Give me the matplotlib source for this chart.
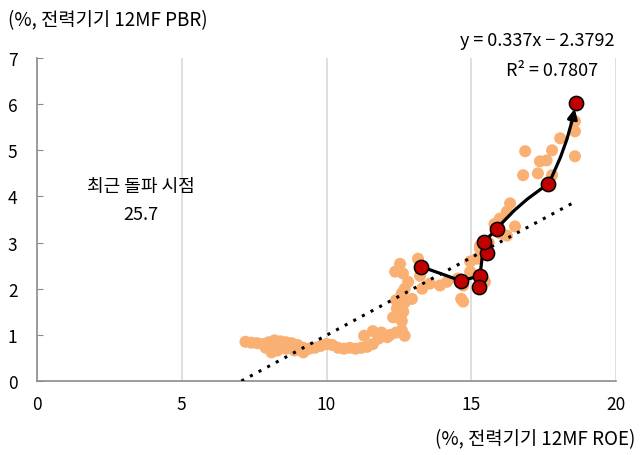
import matplotlib
matplotlib.use("Agg")
import matplotlib.pyplot as plt

plt.rcParams["font.family"] = ["Noto Sans CJK KR", "DejaVu Sans"]

# orange scatter: 12MF ROE vs 12MF PBR
roe = [
    7.2, 7.4, 7.6, 7.8, 8.0, 8.2, 8.3, 8.4, 8.6, 8.8, 9.0, 9.2, 9.4, 9.6, 9.8,
    10.0, 10.2, 10.4, 10.6, 10.8, 11.0, 11.2, 11.4, 11.6, 11.8, 12.0, 12.2, 12.4,
    12.6, 12.7, 12.6, 12.65, 12.7, 12.6, 8.1, 8.3, 8.6, 8.9, 9.2, 7.9, 11.9, 12.1,
    11.3, 11.6, 12.3, 12.4, 12.7,
    12.54, 12.37, 12.64, 12.82, 12.64, 12.43, 12.95, 13.16, 13.23, 13.30, 13.57,
    13.92, 14.16, 14.54, 14.72, 14.72, 14.96, 15.2, 15.3, 15.47, 14.65,
    16.86, 16.79, 17.37, 17.6, 17.3, 17.79, 18.07, 18.58, 18.58, 17.79, 16.34,
    16.23, 15.99, 16.51, 16.23, 15.3, 14.96, 18.58, 15.6, 15.8, 16.0,
]
pbr = [
    0.85, 0.83, 0.82, 0.80, 0.84, 0.88, 0.78, 0.86, 0.84, 0.82, 0.78, 0.72, 0.70,
    0.72, 0.76, 0.80, 0.78, 0.72, 0.70, 0.72, 0.70, 0.72, 0.74, 0.80, 0.92, 0.98,
    1.00, 1.05, 1.10, 0.98, 1.30, 1.50, 1.70, 1.90, 0.62, 0.66, 0.70, 0.66, 0.62,
    0.72, 1.05, 0.95, 0.98, 1.08, 1.38, 1.75, 2.00,
    2.54, 2.37, 2.33, 2.15, 1.72, 1.57, 1.78, 2.65, 2.28, 2.00, 2.11, 2.07, 2.15,
    2.22, 2.07, 1.72, 2.37, 2.65, 2.87, 2.15, 1.78,
    4.98, 4.46, 4.76, 4.78, 4.50, 5.00, 5.26, 5.41, 4.87, 4.46, 3.85, 3.67, 3.52,
    3.35, 3.15, 2.93, 2.59, 5.63, 3.0, 3.4, 3.2,
]

# red path points (recent breakout)
path_roe = [13.26, 14.65, 15.30, 15.27, 15.54, 15.44, 15.89, 17.65, 18.62]
path_pbr = [2.48, 2.17, 2.28, 2.04, 2.78, 3.02, 3.30, 4.26, 6.02]
line_roe = [13.26, 14.65, 15.30, 15.44, 15.89]
line_pbr = [2.48, 2.17, 2.28, 3.02, 3.30]

slope, intercept = 0.337, -2.3792
trend_x = [-intercept / slope, 18.5]
trend_y = [slope * x + intercept for x in trend_x]

fig = plt.figure(figsize=(6.42, 4.56), dpi=100)
ax = fig.add_axes([0.0576, 0.1623, 0.902, 0.7083])

ax.scatter(roe, pbr, s=75, color="#F9B072", edgecolors="none", zorder=2)
ax.plot(trend_x, trend_y, linestyle=(0, (1, 2.2)), color="black", lw=2.2, zorder=3)

ax.plot(line_roe, line_pbr, color="black", lw=2.3, zorder=4)
ax.annotate("", xy=(path_roe[7], path_pbr[7]), xytext=(path_roe[6], path_pbr[6]),
            arrowprops=dict(arrowstyle="-", color="black", lw=2.3,
                            connectionstyle="arc3,rad=-0.08", shrinkA=0, shrinkB=0),
            zorder=4)
ax.annotate("", xy=(path_roe[8] - 0.05, path_pbr[8] - 0.12),
            xytext=(path_roe[7], path_pbr[7]),
            arrowprops=dict(arrowstyle="-|>", color="black", lw=2.3, mutation_scale=14,
                            connectionstyle="arc3,rad=0.07", shrinkA=0, shrinkB=0),
            zorder=4)
ax.scatter(path_roe, path_pbr, s=105, color="#C00000", edgecolors="black",
           linewidths=1.1, zorder=5)

ax.set_xlim(0, 20)
ax.set_ylim(0, 7)
ax.set_xticks([0, 5, 10, 15, 20])
ax.set_yticks(range(8))
ax.grid(axis="x", color="#D9D9D9", lw=1.2)
ax.set_axisbelow(True)
for side in ["top", "right"]:
    ax.spines[side].set_visible(False)
for side in ["left", "bottom"]:
    ax.spines[side].set_color("#8C8C8C")
    ax.spines[side].set_linewidth(1.2)
ax.tick_params(axis="y", direction="in", length=4, color="#8C8C8C", labelsize=12.5, pad=14)
ax.tick_params(axis="x", length=0, labelsize=12.5, pad=10)

fig.text(0.012, 0.955, "(%, 전력기기 12MF PBR)", fontsize=13.5, va="center", ha="left")
fig.text(0.99, 0.035, "(%, 전력기기 12MF ROE)", fontsize=13.5, va="center", ha="right")
ax.text(17.27, 7.39, "y = 0.337x − 2.3792", fontsize=13, ha="center", va="center")
ax.text(17.8, 6.74, "R² = 0.7807", fontsize=13, ha="center", va="center")
ax.text(3.6, 4.22, "최근 돌파 시점", fontsize=13, ha="center", va="center")
ax.text(3.6, 3.61, "25.7", fontsize=13, ha="center", va="center")

fig.savefig("out.png", dpi=100)
